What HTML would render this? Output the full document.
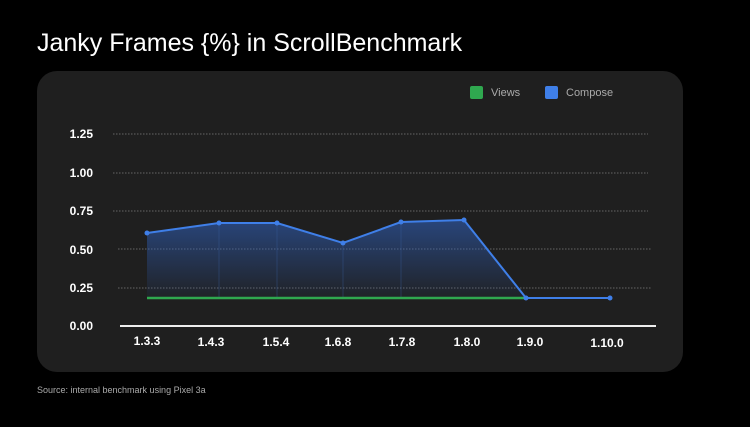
<!DOCTYPE html>
<html><head><style>
body{margin:0;background:#000;width:750px;height:422px;overflow:hidden;font-family:"Liberation Sans",sans-serif}
</style></head><body>
<svg width="750" height="422" xmlns="http://www.w3.org/2000/svg" font-family="Liberation Sans, sans-serif">
<rect width="750" height="422" fill="#000"/>
<text x="37" y="51" fill="#fff" font-size="25">Janky Frames {%} in ScrollBenchmark</text>
<rect x="37" y="71" width="646" height="301" rx="20" fill="#1f1f1f"/>
<rect x="470" y="86" width="13" height="13" rx="2" fill="#2fa84f"/>
<text x="491" y="96" fill="#aaa" font-size="11">Views</text>
<rect x="545" y="86" width="13" height="13" rx="2" fill="#3f7fe8"/>
<text x="566" y="96" fill="#aaa" font-size="11">Compose</text>
<g stroke="#666" stroke-dasharray="1.5 1.5" stroke-width="1">
<line x1="113" y1="134" x2="648" y2="134"/>
<line x1="113" y1="173" x2="648" y2="173"/>
<line x1="113" y1="211" x2="648" y2="211"/>
<line x1="118" y1="249" x2="652" y2="249"/>
<line x1="118" y1="288" x2="652" y2="288"/>
</g>
<g fill="#fff" font-size="12" font-weight="bold" text-anchor="end">
<text x="93" y="138">1.25</text><text x="93" y="177">1.00</text><text x="93" y="215">0.75</text>
<text x="93" y="254">0.50</text><text x="93" y="292">0.25</text><text x="93" y="330">0.00</text>
</g>
<line x1="120" y1="326" x2="656" y2="326" stroke="#eee" stroke-width="2"/>
<g fill="#fff" font-size="12" font-weight="bold" text-anchor="middle">
<text x="147" y="345">1.3.3</text><text x="211" y="346">1.4.3</text><text x="276" y="346">1.5.4</text>
<text x="338" y="346">1.6.8</text><text x="402" y="346">1.7.8</text><text x="467" y="346">1.8.0</text>
<text x="530" y="346">1.9.0</text><text x="607" y="347">1.10.0</text>
</g>
<defs><linearGradient id="g" x1="0" y1="0" x2="0" y2="1">
<stop offset="0" stop-color="#2f5fb8" stop-opacity="0.6"/><stop offset="1" stop-color="#2f5fb8" stop-opacity="0.05"/></linearGradient></defs>
<polygon points="147,233 219,223 277,223 343,243 401,222 464,220 526,298 147,298" fill="url(#g)"/>
<g stroke="#3a5fa0" stroke-width="0.6" opacity="0.6">
<line x1="219" y1="223" x2="219" y2="298"/><line x1="277" y1="223" x2="277" y2="298"/>
<line x1="343" y1="243" x2="343" y2="298"/><line x1="401" y1="222" x2="401" y2="298"/></g>
<line x1="147" y1="298" x2="526" y2="298" stroke="#2fa84f" stroke-width="2.5"/>
<polyline points="147,233 219,223 277,223 343,243 401,222 464,220 526,298 610,298" fill="none" stroke="#3f7fe8" stroke-width="2"/>
<g fill="#3f7fe8"><circle cx="147" cy="233" r="2.5"/><circle cx="219" cy="223" r="2.5"/><circle cx="277" cy="223" r="2.5"/><circle cx="343" cy="243" r="2.5"/><circle cx="401" cy="222" r="2.5"/><circle cx="464" cy="220" r="2.5"/><circle cx="526" cy="298" r="2.5"/><circle cx="610" cy="298" r="2.5"/></g>
<text x="37" y="393" fill="#aaa" font-size="9">Source: internal benchmark using Pixel 3a</text>
</svg>
</body></html>
